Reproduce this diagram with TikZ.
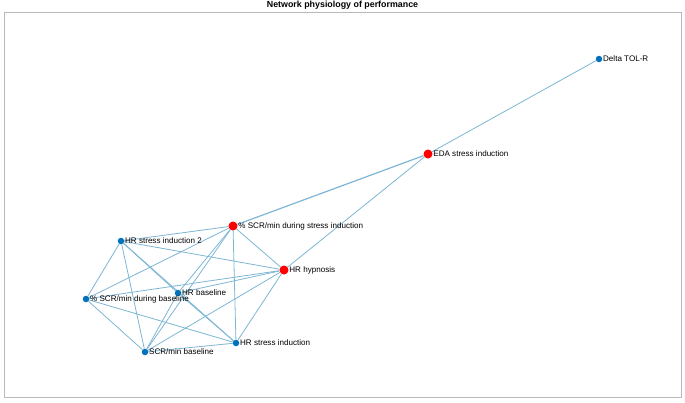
\documentclass[tikz,border=0pt]{standalone}
\usepackage{fontspec}
\setmainfont{Liberation Sans}
\usetikzlibrary{positioning, backgrounds}

\definecolor{linkblue}{RGB}{125,182,212}
\definecolor{dotblue}{RGB}{0,114,189}

\begin{document}
\begin{tikzpicture}[
    x=1bp, y=-1bp,
    blob/.style={circle, fill=dotblue, inner sep=0pt, minimum size=6.5bp},
    hub/.style={circle, fill=red, inner sep=0pt, minimum size=9bp},
    lab/.style={inner sep=0.5pt, font=\fontsize{8.1}{9}\selectfont},
    link/.style={draw=linkblue, line width=0.8bp}
  ]
  \useasboundingbox (0,0) rectangle (685,402);
  \draw[gray!55, line width=0.9bp] (4,12) rectangle (681.5,397.5);
  \node[font=\bfseries\fontsize{8.9}{10}\selectfont] (title) at (342.5,5.5)
    {Network physiology of performance};

  % nodes of the network
  \node[blob] (dtol) at (599,59) {};
  \node[hub]  (eda)  at (428,154) {};
  \node[hub]  (scrsi) at (233,226) {};
  \node[hub]  (hrhyp) at (284,270) {};
  \node[blob] (hrsi2) at (121,241) {};
  \node[blob] (hrbl) at (178,293) {};
  \node[blob] (scrbl) at (86,299) {};
  \node[blob] (scrmin) at (145,352) {};
  \node[blob] (hrsi) at (236,343) {};

  % labels
  \node[lab, right=0pt of dtol]   (dtoltxt)  {Delta TOL-R};
  \node[lab, right=0pt of eda]    (edatxt)   {EDA stress induction};
  \node[lab, right=0pt of scrsi]  (scrsitxt) {\% SCR/min during stress induction};
  \node[lab, right=0pt of hrhyp]  (hrhyptxt) {HR hypnosis};
  \node[lab, right=0pt of hrsi2]  (hrsi2txt) {HR stress induction 2};
  \node[lab, right=0pt of hrbl]   (hrbltxt)  {HR baseline};
  \node[lab, right=0pt of scrbl]  (scrbltxt) {\% SCR/min during baseline};
  \node[lab, right=0pt of scrmin] (scrmintxt) {SCR/min baseline};
  \node[lab, right=0pt of hrsi]   (hrsitxt)  {HR stress induction};

  % edges
  \begin{pgfonlayer}{background}
    \draw[link, line width=1.2bp] (eda) -- (scrsi);
    \foreach \a/\b in {dtol/eda, eda/hrhyp,
                       scrsi/hrhyp, scrsi/hrsi2, scrsi/scrbl, scrsi/hrbl,
                       scrsi/scrmin, scrsi/hrsi,
                       hrhyp/hrsi2, hrhyp/scrbl, hrhyp/hrbl, hrhyp/scrmin,
                       hrhyp/hrsi,
                       hrsi2/scrbl, hrsi2/scrmin, hrsi2/hrbl, hrsi2/hrsi,
                       hrbl/hrsi, hrbl/scrmin,
                       scrbl/hrsi, scrbl/scrmin, scrmin/hrsi} {
      \draw[link] (\a) -- (\b);
    }
  \end{pgfonlayer}
\end{tikzpicture}
\end{document}
